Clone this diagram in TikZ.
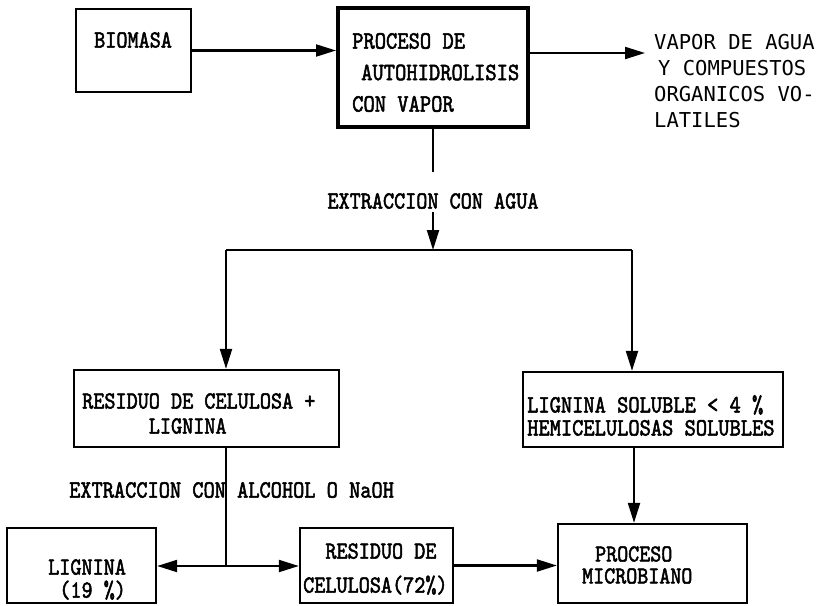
\documentclass[tikz,border=0pt]{standalone}
\usepackage{fontspec}
\usetikzlibrary{arrows.meta}
% narrow, heavier typewriter face for the box texts
\newfontfamily\twfont{lmmono10-regular.otf}[FakeStretch=0.86, FakeBold=2]
\newfontfamily\gothfont{DejaVu Sans Mono}
\newcommand\typesz[2]{\twfont\fontsize{#1}{#2}\selectfont}
\tikzset{
  box/.style={draw, rectangle, line width=2.3pt, inner sep=0pt},
  heavybox/.style={box, line width=4pt},
  wire/.style={line width=2.1pt},
  arr/.style={wire, -{Triangle[length=20pt,width=12pt]}},
  txt/.style={inner sep=0pt, align=left, anchor=west},
}
\begin{document}
\begin{tikzpicture}[x=1pt, y=-1pt]
\useasboundingbox (0,0) rectangle (826,605);

% boxes
\node[box, minimum width=115pt, minimum height=83pt] (bio) at (133.5,50.5) {};
\node[heavybox, minimum width=190pt, minimum height=119pt] (auto) at (433,67.5) {};
\node[box, minimum width=265pt, minimum height=77pt] (resid) at (206.5,408.5) {};
\node[box, minimum width=260pt, minimum height=75pt] (soluble) at (653,409.5) {};
\node[box, minimum width=149pt, minimum height=75pt] (lig) at (81.5,565.5) {};
\node[box, minimum width=153pt, minimum height=75pt] (cel) at (376.5,565.5) {};
\node[box, minimum width=189pt, minimum height=79pt] (micro) at (652.5,563.5) {};

% texts
\node[txt, font=\typesz{24.6}{25}] (tbio) at (94,40) {BIOMASA};
\node[txt, font=\typesz{25}{31.5}] (tauto) at (352,72.5)
  {PROCESO DE\\\hspace*{9pt}AUTOHIDROLISIS\\CON VAPOR};
\node[txt, font=\gothfont\fontsize{20.5}{26}\selectfont] (tvap) at (654,81)
  {VAPOR DE AGUA\\\hspace*{4pt}Y COMPUESTOS\\ORGANICOS VO-\\LATILES};
\node[txt, anchor=center, font=\typesz{24.6}{25}] (lblagua) at (433,201) {EXTRACCION CON AGUA};
\node[txt, font=\typesz{24.6}{25}] (tresid) at (82,413.5)
  {RESIDUO DE CELULOSA +\\\phantom{RESIDU}LIGNINA};
\node[txt, font=\typesz{24.9}{23}] (tsol) at (527,415.5)
  {LIGNINA SOLUBLE < 4 \%\\HEMICELULOSAS SOLUBLES};
\node[txt, font=\typesz{24.8}{25}] (lblalc) at (69,490) {EXTRACCION CON ALCOHOL O NaOH};
\node[txt, font=\typesz{24.6}{23}] (tlig) at (48,579.5)
  {LIGNINA\\\phantom{L}(19 \%)};
\node[txt, font=\typesz{24.6}{34}] (tcel) at (303,569)
  {\phantom{CE}RESIDUO DE\\CELULOSA(72\%)};
\node[txt, font=\typesz{24.4}{22}] (tmic) at (582,565)
  {\hspace*{13pt}PROCESO\\MICROBIANO};

% connector ends and junctions
\coordinate (vout) at (645,53);
\coordinate (drop) at (433,172);
\coordinate (split) at (433,250);
\coordinate (lsplit) at (226,250);
\coordinate (rsplit) at (632,250);
\coordinate (fork) at (226,566);
\coordinate (sdown) at (634,0);

% connectors
\draw[arr] (bio.east) -- (bio.east -| auto.west);
\draw[arr] (vout -| auto.east) -- (vout);
\draw[wire] (auto.south) -- (drop);
\draw[arr] (split |- 0,212) -- (split);
\draw[wire] (lsplit) -- (rsplit);
\draw[arr] (lsplit) -- (lsplit |- resid.north);
\draw[arr] (rsplit) -- (rsplit |- soluble.north);
\draw[wire] (fork |- resid.south) -- (fork);
\draw[arr] (fork) -- (fork -| lig.east);
\draw[arr] (fork) -- (fork -| cel.west);
\draw[arr] (cel.east) -- (cel.east -| micro.west);
\draw[arr] (sdown |- soluble.south) -- (sdown |- micro.north);
\end{tikzpicture}
\end{document}
